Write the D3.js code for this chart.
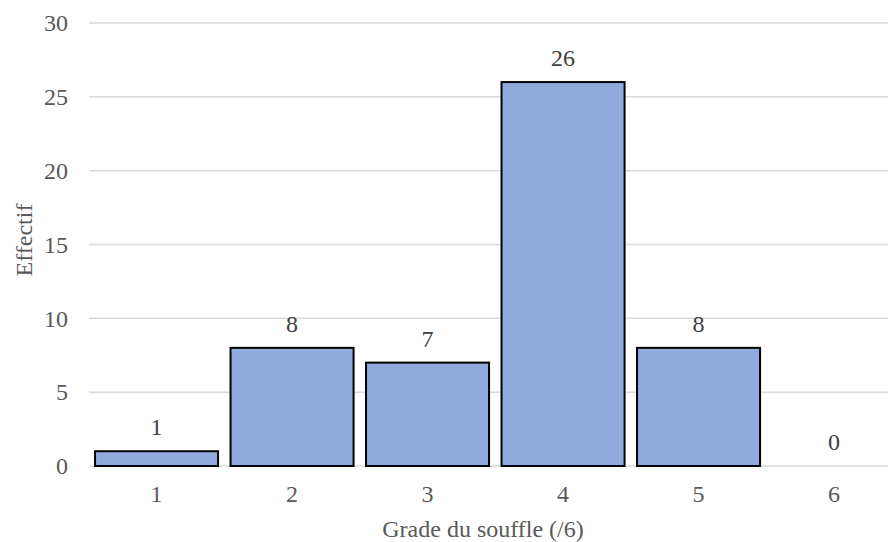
<!DOCTYPE html>
<html><head><meta charset="utf-8">
<script src="https://cdn.jsdelivr.net/npm/d3@7"></script>
<style>body{margin:0;background:#fff;} svg text{font-family:"Liberation Serif","Times New Roman","DejaVu Serif",serif !important;}</style>
</head><body>
<svg id="c" width="888" height="542"></svg>
<script>
const categories = ["1","2","3","4","5","6"];
const values = [1, 8, 7, 26, 8, 0];
const yTicks = [0, 5, 10, 15, 20, 25, 30];
const xTitle = "Grade du souffle (/6)";
const yTitle = "Effectif";
const FONT = "'Liberation Serif', 'Times New Roman', serif";

const svg = d3.select("#c");
const x = d3.scaleBand().domain(categories).range([88.8, 901.8]).paddingInner(0.092).paddingOuter(0.046);
const y = d3.scaleLinear().domain([0, 30]).range([466, 23]);

svg.append("g").selectAll("line").data(yTicks).join("line")
  .attr("x1", 89).attr("x2", 902)
  .attr("y1", d => y(d)).attr("y2", d => y(d))
  .attr("stroke", "#d9d9d9").attr("stroke-width", 1.5);

const yAxis = d3.axisLeft(y).tickValues(yTicks).tickSize(0).tickPadding(0);
const gy = svg.append("g").attr("transform", "translate(68,0)").call(yAxis);
gy.attr("font-family", FONT).attr("font-size", 24);
gy.select(".domain").remove();
gy.selectAll("text").attr("fill", "#595959");

svg.append("g").selectAll("rect").data(values).join("rect")
  .attr("x", (d, i) => x(categories[i]))
  .attr("y", d => y(d))
  .attr("width", x.bandwidth())
  .attr("height", d => y(0) - y(d))
  .attr("fill", d => d > 0 ? "#8faadc" : "none")
  .attr("stroke", d => d > 0 ? "#000" : "none")
  .attr("stroke-width", 2);

const xAxis = d3.axisBottom(x).tickSize(0).tickPadding(0);
const gx = svg.append("g").attr("transform", "translate(0,485)").call(xAxis);
gx.attr("font-family", FONT).attr("font-size", 24);
gx.select(".domain").remove();
gx.selectAll("text").attr("fill", "#595959");

svg.append("g").attr("font-family", FONT).selectAll("text").data(values).join("text")
  .attr("x", (d, i) => x(categories[i]) + x.bandwidth() / 2)
  .attr("y", d => y(d) - 16)
  .attr("text-anchor", "middle")
  .attr("font-size", 24).attr("fill", "#404040")
  .text(d => d);

svg.append("text").attr("font-family", FONT).attr("x", 483).attr("y", 537).attr("text-anchor", "middle")
  .attr("font-size", 24).attr("fill", "#595959").text(xTitle);
svg.append("text").attr("font-family", FONT).attr("transform", "translate(32,240) rotate(-90)").attr("text-anchor", "middle")
  .attr("font-size", 24).attr("fill", "#595959").text(yTitle);
</script>
</body></html>
